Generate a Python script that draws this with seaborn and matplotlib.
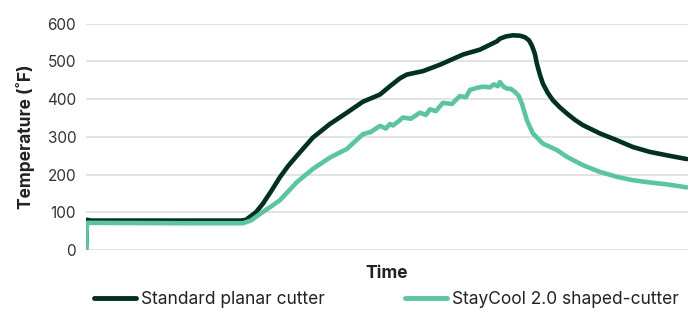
import matplotlib
matplotlib.use('Agg')
import matplotlib.pyplot as plt
import numpy as np
import pandas as pd
import seaborn as sns

# values (time in arbitrary units, temperature in F)
std_time = [0, 1, 5, 100, 155, 160, 164, 170, 177, 185, 194, 202, 211, 227, 244, 261,
            277, 294, 304, 314, 321, 337, 354, 377, 394, 411, 414, 420, 427, 434, 439,
            443, 446, 449, 451, 454, 457, 462, 467, 474, 481, 489, 497, 514, 531, 547,
            564, 581, 601]
std_temp = [0, 80, 78, 78, 78, 80, 88, 100, 123, 155, 193, 222, 250, 298, 334, 364,
            393, 412, 434, 455, 465, 474, 491, 518, 531, 553, 560, 566, 569, 568, 564,
            556, 542, 520, 494, 465, 441, 416, 397, 378, 362, 345, 331, 309, 291, 273,
            260, 251, 241]

sc_time = [0, 1, 100, 157, 165, 177, 185, 194, 211, 227, 244, 252, 261, 270, 277,
           285, 294, 300, 304, 307, 312, 317, 325, 334, 340, 344, 350, 357, 366, 374,
           380, 384, 390, 397, 404, 408, 412, 414, 418, 421, 425, 429, 433, 436, 441,
           447, 457, 471, 481, 497, 514, 531, 547, 564, 581, 601]
sc_temp = [0, 72, 71, 71, 78, 101, 115, 132, 180, 215, 245, 256, 268, 290, 307,
           313, 329, 322, 334, 330, 340, 351, 348, 364, 358, 373, 368, 390, 387, 408,
           405, 424, 429, 433, 431, 439, 434, 445, 432, 428, 427, 419, 408, 388, 344,
           309, 282, 265, 247, 225, 207, 194, 185, 179, 174, 166]

labels = ['Standard planar cutter', 'StayCool 2.0 shaped-cutter']
colors = ['#02321f', '#5cc4a0']

df = pd.concat([
    pd.DataFrame({'time': std_time, 'temp': std_temp, 'series': labels[0]}),
    pd.DataFrame({'time': sc_time, 'temp': sc_temp, 'series': labels[1]}),
])

sns.set_theme(style='white')
plt.rcParams['font.family'] = ['Inter', 'DejaVu Sans']

fig = plt.figure(figsize=(6.95, 3.14), dpi=100)
ax = fig.add_axes([0.1237, 0.2038, 0.866, 0.721])

sns.lineplot(data=df, x='time', y='temp', hue='series', palette=colors,
             linewidth=3.3, ax=ax, legend=False, sort=False)

ax.set_xlim(0, 602)
ax.set_ylim(0, 600)
ax.set_yticks([0, 100, 200, 300, 400, 500, 600])
ax.set_xticks([])
ax.yaxis.grid(True, color='#e3e3e3', linewidth=1.4)
ax.set_axisbelow(True)
for s in ax.spines.values():
    s.set_visible(False)
ax.tick_params(axis='y', length=0, pad=7, labelsize=11)
for lbl in ax.get_yticklabels():
    lbl.set_color('#333333')

ax.set_xlabel('Time', fontsize=12.5, fontweight='bold', color='#222222', labelpad=11)
ax.set_ylabel('Temperature (˚F)', fontsize=12.5, fontweight='bold', color='#222222', labelpad=9)

handles = [plt.Line2D([], [], color=c, linewidth=3.5) for c in colors]
fig.legend(handles, labels, loc='center', bbox_to_anchor=(0.556, 0.045), ncol=2,
           frameon=False, fontsize=12.5, handlelength=2.4, handletextpad=0.3,
           columnspacing=4.6, labelcolor='#222222')

fig.savefig('out.png', dpi=100)
